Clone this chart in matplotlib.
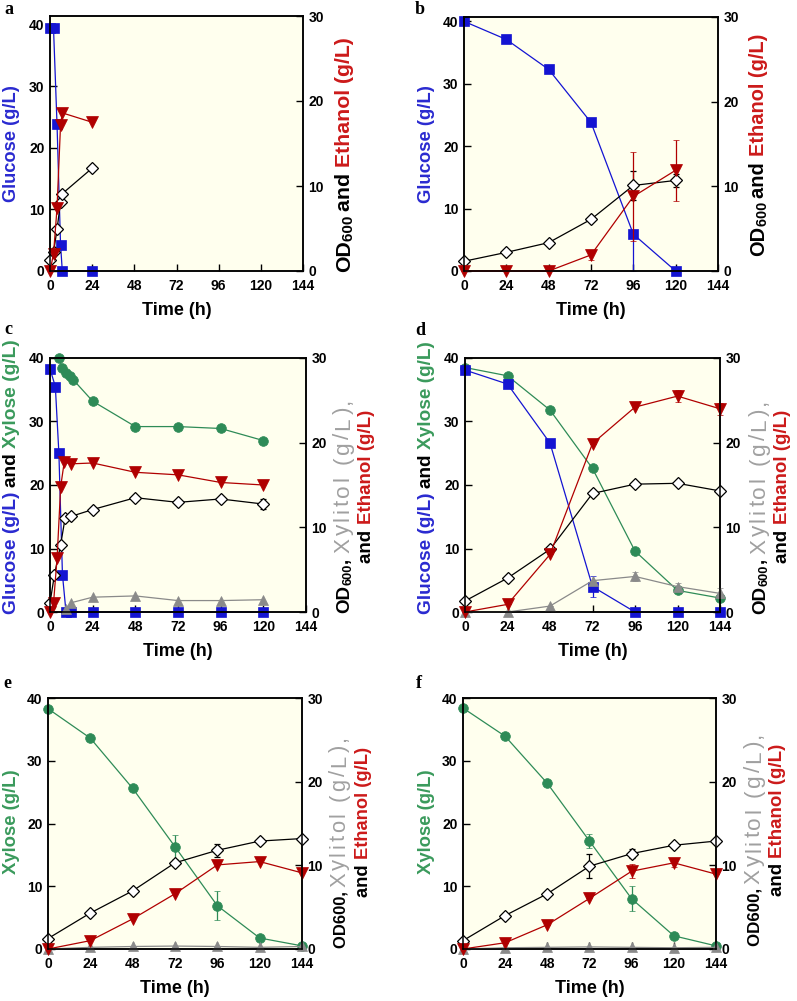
import matplotlib
matplotlib.use("Agg")
import matplotlib.pyplot as plt
from matplotlib.font_manager import FontProperties

# ---- data ----
a_time = [0, 2, 4, 6, 7, 24]
a_glucose = [39.5, 39.4, 23.8, 4.3, 0.0, 0.0]
a_ethanol = [0.0, 2.0, 7.4, 17.2, 18.6, 17.5]
a_od = [1.3, 2.2, 4.9, 8.1, 9.1, 12.1]

b_time = [0, 24, 48, 72, 96, 120]
b_glucose = [40.0, 37.1, 32.3, 23.8, 5.9, 0.0]
b_glucose_err = [[0, 0, 0, 0, 5.9, 0], [0, 0, 0, 0, 0, 0]]
b_ethanol = [0.0, 0.0, 0.0, 1.9, 8.8, 11.9]
b_ethanol_err = [0, 0, 0, 0.6, 5.2, 3.6]
b_od = [1.15, 2.2, 3.35, 6.1, 10.1, 10.7]
b_od_err = [0, 0, 0, 0, 1.7, 0.8]

c_glu_time = [0, 3, 5, 7, 9, 12, 24, 48, 72, 96, 120]
c_glucose = [38.3, 35.5, 25.0, 5.9, 0, 0, 0, 0, 0, 0, 0]
c_xyl_time = [5, 7, 9, 11, 13, 24, 48, 72, 96, 120]
c_xylose = [40.0, 38.4, 37.6, 37.1, 36.6, 33.2, 29.2, 29.2, 28.9, 27.0]
c_eth_time = [0, 2, 4, 6, 8, 12, 24, 48, 72, 96, 120]
c_ethanol = [0.0, 1.1, 6.4, 14.8, 17.7, 17.5, 17.6, 16.5, 16.2, 15.3, 15.0]
c_od_time = [0, 2.5, 6, 8.5, 12, 24, 48, 72, 96, 120]
c_od = [1.06, 4.4, 7.95, 11.1, 11.3, 12.1, 13.5, 12.95, 13.35, 12.75]
c_od_err = [0, 0, 0, 0, 0, 0, 0, 0, 0, 0.6]
c_xlt_time = [9, 12, 24, 48, 72, 96, 120]
c_xylitol = [0.3, 1.1, 1.75, 1.9, 1.35, 1.35, 1.45]

d_time = [0, 24, 48, 72, 96, 120, 144]
d_glucose = [38.1, 35.9, 26.6, 4.0, 0, 0, 0]
d_glucose_err = [0, 0, 0, 1.6, 0, 0, 0]
d_xylose = [38.5, 37.2, 31.8, 22.6, 9.6, 3.4, 2.2]
d_ethanol = [0.0, 0.9, 6.8, 19.9, 24.2, 25.5, 24.0]
d_ethanol_err = [0, 0, 0, 0, 0, 0.7, 0.7]
d_od = [1.3, 4.0, 7.4, 14.0, 15.1, 15.2, 14.3]
d_xylitol = [0.0, 0.0, 0.7, 3.7, 4.2, 3.0, 2.2]
d_xylitol_err = [0, 0, 0, 0, 0.5, 0.4, 0.6]

e_time = [0, 24, 48, 72, 96, 120, 144]
e_xylose = [38.3, 33.6, 25.6, 16.3, 6.9, 1.75, 0.5]
e_xylose_err = [0, 0, 0, 1.9, 2.3, 0, 0]
e_ethanol = [0.0, 1.0, 3.6, 6.6, 10.05, 10.45, 9.1]
e_od = [1.25, 4.3, 6.95, 10.3, 11.8, 12.9, 13.2]
e_od_err = [0, 0, 0, 0, 0.8, 0.4, 0]
e_xylitol = [0.0, 0.2, 0.3, 0.35, 0.3, 0.2, 0.3]

f_time = [0, 24, 48, 72, 96, 120, 144]
f_xylose = [38.4, 33.9, 26.4, 17.2, 8.0, 2.1, 0.5]
f_xylose_err = [0, 0, 0, 1.1, 2.0, 0, 0]
f_ethanol = [0.0, 0.75, 2.9, 6.05, 9.3, 10.3, 8.95]
f_ethanol_err = [0, 0, 0, 0, 0.8, 0.5, 0]
f_od = [1.0, 4.0, 6.6, 9.9, 11.4, 12.4, 12.9]
f_od_err = [0, 0, 0, 1.4, 0.5, 0, 0]
f_xylitol = [0.0, 0.15, 0.2, 0.25, 0.2, 0.15, 0.2]

x_ticks = [0, 24, 48, 72, 96, 120, 144]

# ---- style ----
BLUE = "#1414d2"
RED = "#b00000"
GREEN = "#2e8b57"
GRAY = "#8a8a8a"
L_BLUE = "#2a2ad0"
L_RED = "#cc1a1a"
L_GREEN = "#3a9a5c"
L_GRAY = "#a0a0a0"
K = "black"
FONT = "Liberation Sans"

plt.rcParams["font.family"] = FONT
plt.rcParams["font.weight"] = "bold"

W, H = 797, 1001
fig = plt.figure(figsize=(W / 100, H / 100), dpi=100)
renderer = fig.canvas.get_renderer()


def to_fig(x, y):
    return x / W, 1 - y / H


def piece_len(s, size, weight="bold"):
    prop = FontProperties(family=FONT, weight=weight, size=size)
    w1 = renderer.get_text_width_height_descent(s + "l", prop, ismath=False)[0]
    w0 = renderer.get_text_width_height_descent("l", prop, ismath=False)[0]
    return w1 - w0


def vtext(x, y, s, c, fs, w):
    fig.text(*to_fig(x, y), s, color=c, fontsize=fs, fontweight=w,
             rotation=90, rotation_mode="anchor", ha="left", va="baseline")


def vlabel(x, yc, pieces, length, size=None, max_size=None):
    # rotated label made of coloured pieces; piece opts: k=rel size,
    # sub=downward shift (em), w=weight, stretch=fill the remaining length
    if size is None:
        nat = sum(piece_len(s, 10 * o.get("k", 1), o.get("w", "bold"))
                  for s, _, o in pieces)
        size = 10 * length / nat
        if max_size and size > max_size:
            size = max_size
            length = nat * size / 10
    fixed = sum(piece_len(s, size * o.get("k", 1), o.get("w", "bold"))
                for s, _, o in pieces if not o.get("stretch"))
    rest = length - fixed
    y = yc + length / 2
    for s, c, o in pieces:
        fs = size * o.get("k", 1)
        w = o.get("w", "bold")
        dx = o.get("sub", 0) * fs * 100 / 72
        if o.get("stretch"):
            lens = [piece_len(ch, fs, w) for ch in s]
            gap = (rest - sum(lens)) / len(s)
            for ch, L in zip(s, lens):
                vtext(x + dx, y, ch, c, fs, w)
                y -= L + gap
        else:
            vtext(x + dx, y, s, c, fs, w)
            y -= piece_len(s, fs, w)
    return size


def make_axes(rect, ltop=40):
    l, t, r, b = rect
    ax = fig.add_axes([l / W, 1 - b / H, (r - l) / W, (b - t) / H])
    ax.set_facecolor("#FFFFEE")
    ax.set_xlim(0, 144)
    ax.set_xticks(x_ticks)
    ax.set_ylim(0, ltop)
    ax.set_yticks([0, 10, 20, 30, 40])
    ax2 = ax.twinx()
    ax2.set_ylim(0, 30)
    ax2.set_yticks([0, 10, 20, 30])
    for a in (ax, ax2):
        a.tick_params(direction="in", length=5, width=1, labelsize=10, pad=4)
        for sp in a.spines.values():
            sp.set_linewidth(1.1)
    ax.tick_params(axis="x", pad=6)
    ax.tick_params(top=False, right=False)
    for lab in ax.get_xticklabels() + ax.get_yticklabels() + ax2.get_yticklabels():
        lab.set_fontweight("bold")
    ax.set_xlabel("Time (h)", fontsize=13, fontweight="bold", labelpad=6)
    return ax, ax2


def series(ax, t, y, marker, color, mfc=None, ms=7, err=None):
    hollow = mfc == "white"
    cont = ax.errorbar(t, y, yerr=err, fmt="-" + marker, color=color, ms=ms,
                       mfc=mfc or color, mec="black" if hollow else color,
                       mew=0.9 if hollow else 0.5, lw=0.9,
                       elinewidth=0.9, capsize=2,
                       ecolor="black" if hollow else color)
    for art in cont.get_children():
        art.set_clip_on(False)


SUB = {"k": 0.72, "sub": 0.22}
GRAYTXT = {"w": "normal", "k": 1.2, "stretch": True}
SMALL = {"k": 1.0}
SMALL_SUB = {"k": 0.68, "sub": 0.18}


def right_two_lines(x1, c1, len1, x2, c2, len2, subscript=True):
    s2 = vlabel(x2, c2, [("and ", K, {}), ("Ethanol (g/L)", L_RED, {})], len2,
                max_size=13.5)
    if subscript:
        first = [("OD", K, SMALL), ("600", K, SMALL_SUB), (", ", K, SMALL)]
    else:
        first = [("OD600, ", K, {"k": 0.9})]
    vlabel(x1, c1, first + [("Xylitol (g/L),", L_GRAY, GRAYTXT)], len1, size=s2)


# panel a
ax, ax2 = make_axes((50, 16, 303, 271), ltop=41.4)
series(ax, a_time, a_glucose, "s", BLUE)
series(ax2, a_time, a_od, "D", "black", mfc="white", ms=6.5)
series(ax2, a_time, a_ethanol, "v", RED, ms=8)
vlabel(16, 143, [("Glucose (g/L)", L_BLUE, {})], 117)
vlabel(350, 155, [("OD", K, {}), ("600 ", K, SUB), ("and ", K, {}),
                  ("Ethanol (g/L)", L_RED, {})], 235)
fig.text(*to_fig(4, 14), "a", family="Liberation Serif", fontsize=13)

# panel b
ax, ax2 = make_axes((464, 17, 718, 271), ltop=40.7)
series(ax, b_time, b_glucose, "s", BLUE, err=b_glucose_err)
series(ax2, b_time, b_od, "D", "black", mfc="white", ms=6.5, err=b_od_err)
series(ax2, b_time, b_ethanol, "v", RED, ms=8, err=b_ethanol_err)
vlabel(431, 144, [("Glucose (g/L)", L_BLUE, {})], 118)
vlabel(764, 145, [("OD", K, {}), ("600 ", K, SUB), ("and ", K, {}),
                  ("Ethanol (g/L)", L_RED, {})], 222)
fig.text(*to_fig(415, 14), "b", family="Liberation Serif", fontsize=13)

# panel c
ax, ax2 = make_axes((50, 358, 306, 612))
series(ax, c_xyl_time, c_xylose, "o", GREEN)
series(ax, c_glu_time, c_glucose, "s", BLUE)
series(ax2, c_xlt_time, c_xylitol, "^", GRAY, ms=7.5)
series(ax2, c_od_time, c_od, "D", "black", mfc="white", ms=6.5, err=c_od_err)
series(ax2, c_eth_time, c_ethanol, "v", RED, ms=8)
vlabel(16, 477, [("Glucose (g/L) ", L_BLUE, {}), ("and ", K, {}),
                 ("Xylose (g/L)", L_GREEN, {})], 275)
right_two_lines(349, 504, 218, 371, 486, 158)
fig.text(*to_fig(4, 334), "c", family="Liberation Serif", fontsize=13)

# panel d
ax, ax2 = make_axes((465, 358, 720, 612))
series(ax, d_time, d_xylose, "o", GREEN)
series(ax, d_time, d_glucose, "s", BLUE, err=d_glucose_err)
series(ax2, d_time, d_xylitol, "^", GRAY, ms=7.5, err=d_xylitol_err)
series(ax2, d_time, d_od, "D", "black", mfc="white", ms=6.5)
series(ax2, d_time, d_ethanol, "v", RED, ms=8, err=d_ethanol_err)
vlabel(431, 478, [("Glucose (g/L) ", L_BLUE, {}), ("and ", K, {}),
                  ("Xylose (g/L)", L_GREEN, {})], 273)
right_two_lines(765, 505, 217, 787, 486, 162)
fig.text(*to_fig(415, 335), "d", family="Liberation Serif", fontsize=13)

# panel e
ax, ax2 = make_axes((48, 698, 302, 949))
series(ax, e_time, e_xylose, "o", GREEN, err=e_xylose_err)
series(ax2, e_time, e_xylitol, "^", GRAY, ms=7.5)
series(ax2, e_time, e_od, "D", "black", mfc="white", ms=6.5, err=e_od_err)
series(ax2, e_time, e_ethanol, "v", RED, ms=8)
vlabel(16, 822, [("Xylose (g/L)", L_GREEN, {})], 105)
right_two_lines(345, 841, 215, 368, 822, 150, subscript=False)
fig.text(*to_fig(3, 688), "e", family="Liberation Serif", fontsize=13)

# panel f
ax, ax2 = make_axes((463, 698, 716, 949))
series(ax, f_time, f_xylose, "o", GREEN, err=f_xylose_err)
series(ax2, f_time, f_xylitol, "^", GRAY, ms=7.5)
series(ax2, f_time, f_od, "D", "black", mfc="white", ms=6.5, err=f_od_err)
series(ax2, f_time, f_ethanol, "v", RED, ms=8, err=f_ethanol_err)
vlabel(431, 822, [("Xylose (g/L)", L_GREEN, {})], 105)
right_two_lines(760, 838, 217, 782, 820, 153, subscript=False)
fig.text(*to_fig(416, 688), "f", family="Liberation Serif", fontsize=13)

fig.savefig("out.png", dpi=100)
